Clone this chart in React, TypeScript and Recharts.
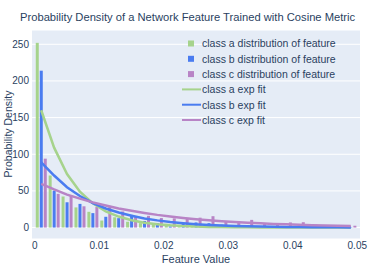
import React from 'react';
import { ComposedChart, Bar, Line, XAxis, YAxis, CartesianGrid } from 'recharts';

const binCenters = [0.001, 0.003, 0.005, 0.007, 0.009, 0.011, 0.013, 0.015, 0.017, 0.019, 0.021, 0.023, 0.025, 0.027, 0.029, 0.031, 0.033, 0.035, 0.037, 0.039, 0.041, 0.043, 0.045, 0.047, 0.049];
const classAHist = [252, 71, 42.5, 27.5, 21.5, 9.6, 14, 8, 6, 6, 5, 3, 2, 2, 1.5, 1, 1, 0.5, 0.5, 0.5, 0, 0.5, 0, 0, 0];
const classBHist = [214, 50.4, 34.5, 32.3, 19.7, 14.7, 12.8, 17.4, 9, 6, 1.5, 6, 7, 6, 4, 3, 2, 2, 1.5, 1, 1, 0.5, 0.5, 0.5, 0.5];
const classCHist = [94, 46, 44, 29, 28, 29.5, 22, 14.7, 16, 13, 12.5, 12, 13.5, 15.5, 8, 7, 10.5, 5, 4.5, 7, 7.3, 4, 3.5, 3, 2.5];

const classAFit = [160, 109, 73, 49, 33, 22, 15, 10, 6.7, 4.5, 3, 2, 1.4, 0.9, 0.6, 0.4, 0.3, 0.2, 0.1, 0.1, 0.05, 0.03, 0.02, 0.01, 0.01];
const classBFit = [89, 71, 55, 43, 33.5, 26, 20.5, 16, 12.5, 9.8, 7.6, 6, 4.6, 3.6, 2.8, 2.2, 1.7, 1.3, 1.0, 0.8, 0.6, 0.5, 0.4, 0.3, 0.25];
const classCFit = [59.5, 52, 45, 39.5, 34.4, 30, 26, 22.8, 19.9, 17.3, 15.1, 13.2, 11.5, 10, 8.7, 7.6, 6.6, 5.8, 5.0, 4.4, 3.8, 3.3, 2.9, 2.5, 2.2];

const xTicks = [0, 0.01, 0.02, 0.03, 0.04, 0.05];
const yTicks = [0, 50, 100, 150, 200, 250];

const titleText = 'Probability Density of a Network Feature Trained with Cosine Metric';
const xTitle = 'Feature Value';
const yTitle = 'Probability Density';

const GREEN = '#a6d38c';
const BLUE = '#4a7cf0';
const PURPLE = '#b884c6';
const TEXT = '#2a3f5f';
const FONT = '"Liberation Sans", Arial, sans-serif';

const legendItems = [
  { label: 'class a distribution of feature', kind: 'bar', color: GREEN },
  { label: 'class b distribution of feature', kind: 'bar', color: BLUE },
  { label: 'class c distribution of feature', kind: 'bar', color: PURPLE },
  { label: 'class a exp fit', kind: 'line', color: GREEN },
  { label: 'class b exp fit', kind: 'line', color: BLUE },
  { label: 'class c exp fit', kind: 'line', color: PURPLE },
];

const data = binCenters.map((x, i) => ({
  x,
  a: classAHist[i],
  b: classBHist[i],
  c: classCHist[i],
  fa: classAFit[i],
  fb: classBFit[i],
  fc: classCFit[i],
}));

export default function App() {
  return (
    <div style={{ position: 'fixed', left: 0, top: 0, width: 374, height: 267, background: '#fff', fontFamily: FONT }}>
      <ComposedChart
        width={374}
        height={267}
        data={data}
        margin={{ top: 30, right: 14, bottom: 0, left: 0 }}
        barGap={1}
      >
        <CartesianGrid fill="#e5ecf6" stroke="#ffffff" strokeWidth={1} vertical={false} />
        <XAxis
          dataKey="x"
          type="number"
          domain={[-0.00043, 0.05042]}
          ticks={xTicks}
          allowDataOverflow
          axisLine={false}
          tickLine={false}
          tickSize={0}
          tickMargin={3}
          height={28}
          tick={{ fill: TEXT, fontSize: 10, fontFamily: FONT }}
          tickFormatter={(v: number) => String(v)}
          interval={0}
        />
        <YAxis
          type="number"
          domain={[-15.6, 269.5]}
          ticks={yTicks}
          allowDataOverflow
          axisLine={false}
          tickLine={false}
          tickSize={0}
          tickMargin={3}
          width={32}
          tick={{ fill: TEXT, fontSize: 10, fontFamily: FONT }}
          interval={0}
        />
        <Bar dataKey="a" fill={GREEN} barSize={3} isAnimationActive={false} />
        <Bar dataKey="b" fill={BLUE} barSize={3} isAnimationActive={false} />
        <Bar dataKey="c" fill={PURPLE} barSize={3} isAnimationActive={false} />
        <Line dataKey="fa" type="linear" stroke={GREEN} strokeWidth={2.5} dot={false} activeDot={false} isAnimationActive={false} />
        <Line dataKey="fb" type="linear" stroke={BLUE} strokeWidth={2.5} dot={false} activeDot={false} isAnimationActive={false} />
        <Line dataKey="fc" type="linear" stroke={PURPLE} strokeWidth={2.5} dot={false} activeDot={false} isAnimationActive={false} />
      </ComposedChart>
      <svg width={374} height={267} style={{ position: 'absolute', left: 0, top: 0, pointerEvents: 'none' }}>
        <text x={20} y={20.5} fontSize={11.2} fill={TEXT} fontFamily={FONT}>{titleText}</text>
        <text x={196} y={263} fontSize={11} fill={TEXT} fontFamily={FONT} textAnchor="middle">{xTitle}</text>
        <text x={12} y={134} fontSize={10.5} fill={TEXT} fontFamily={FONT} textAnchor="middle" transform="rotate(-90 12 134)">{yTitle}</text>
        {legendItems.map((it, i) => {
          const cy = 43.5 + i * 15.3;
          return (
            <g key={it.label}>
              {it.kind === 'bar' ? (
                <rect x={188} y={cy - 3} width={6} height={6} fill={it.color} />
              ) : (
                <line x1={182} x2={201} y1={cy} y2={cy} stroke={it.color} strokeWidth={2} />
              )}
              <text x={202} y={cy + 3.8} fontSize={10.5} fill={TEXT} fontFamily={FONT}>{it.label}</text>
            </g>
          );
        })}
      </svg>
    </div>
  );
}
